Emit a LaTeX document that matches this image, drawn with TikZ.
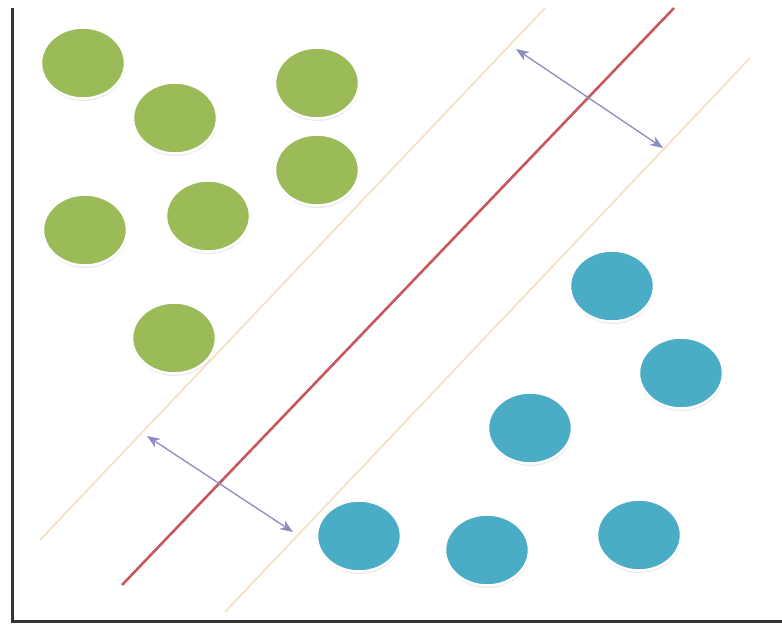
\documentclass[tikz,border=0pt]{standalone}
\usetikzlibrary{shapes.geometric,arrows.meta,shadows}
\definecolor{greenfill}{HTML}{9BBB59}
\definecolor{bluefill}{HTML}{4BACC6}
\definecolor{marginline}{HTML}{F3DFC0}
\definecolor{hyperline}{HTML}{C8585E}
\definecolor{arrowcol}{HTML}{8C8CC0}
\definecolor{axiscol}{HTML}{333333}
\tikzset{
  dot/.style={ellipse, draw=white, line width=2.5pt, minimum width=84pt, minimum height=71pt, inner sep=0pt,
    drop shadow={shadow xshift=0.5pt, shadow yshift=-2.5pt, opacity=0.3, fill=gray!50}},
  gdot/.style={dot, fill=greenfill},
  bdot/.style={dot, fill=bluefill},
  margin/.style={draw=marginline, line width=1.6pt},
  hyper/.style={draw=hyperline, line width=2.6pt},
  gap/.style={draw=arrowcol, line width=1.3pt, {Stealth[length=13pt,width=10pt,inset=4pt]}-{Stealth[length=13pt,width=10pt,inset=4pt]}},
  axis/.style={draw=axiscol, line width=3pt}
}
\begin{document}
\begin{tikzpicture}[x=1pt,y=-1pt]
\useasboundingbox (0,0) rectangle (782,626);
\fill[white] (0,0) rectangle (782,626);
% axes
\coordinate (ytop) at (12,8);
\coordinate (origin) at (12,621);
\coordinate (xend) at (782,621);
\draw[axis] (ytop) -- (origin) -- (xend);
% margin lines and hyperplane
\coordinate (m1a) at (40,540);
\coordinate (m1b) at (545,8);
\coordinate (ha) at (122,585);
\coordinate (hb) at (674,8);
\coordinate (m2a) at (225,612);
\coordinate (m2b) at (750,58);
\draw[margin] (m1a) -- (m1b);
\draw[margin] (m2a) -- (m2b);
\draw[hyper] (ha) -- (hb);
% margin arrows
\coordinate (t1) at (516,49);
\coordinate (t2) at (663,148);
\coordinate (b1) at (147,436);
\coordinate (b2) at (293,532);
\draw[gap] (t1) -- (t2);
\draw[gap] (b1) -- (b2);
% green class
\node[gdot] (g1) at (83,63) {};
\node[gdot] (g2) at (175,118) {};
\node[gdot] (g3) at (317,83) {};
\node[gdot] (g4) at (317,170) {};
\node[gdot] (g5) at (208,216) {};
\node[gdot] (g6) at (85,230) {};
\node[gdot] (g7) at (174,338) {};
% blue class
\node[bdot] (c1) at (612,286) {};
\node[bdot] (c2) at (681,373) {};
\node[bdot] (c3) at (530,428) {};
\node[bdot] (c4) at (359,536) {};
\node[bdot] (c5) at (487,550) {};
\node[bdot] (c6) at (639,535) {};
\end{tikzpicture}
\end{document}
